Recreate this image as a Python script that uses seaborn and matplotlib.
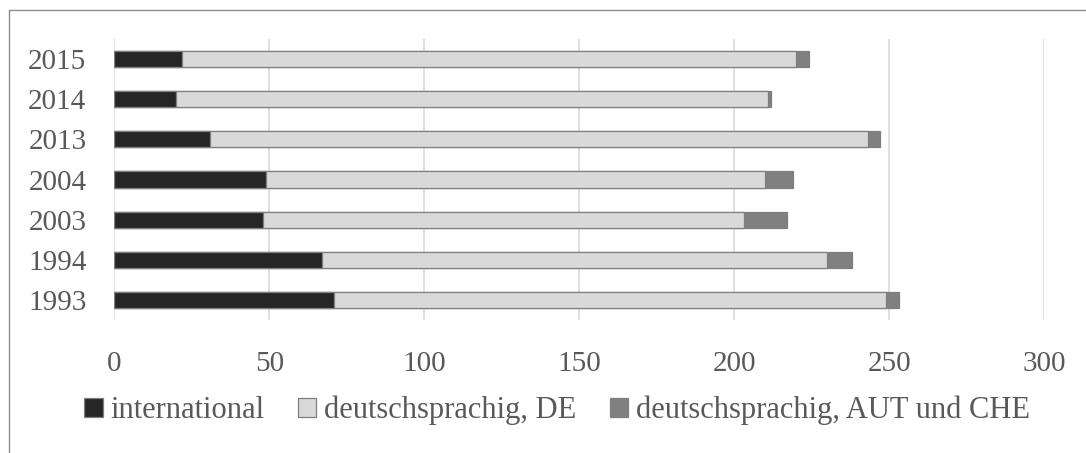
import matplotlib
matplotlib.use("Agg")
import matplotlib.pyplot as plt
from matplotlib.lines import Line2D
from matplotlib.patches import Patch
import seaborn as sns
import pandas as pd
import numpy as np

# Publication counts per year, split by origin
years = ["2015", "2014", "2013", "2004", "2003", "1994", "1993"]
international = [22, 20, 31, 49, 48, 67, 71]
deutsch_de = [198, 191, 212, 161, 155, 163, 178]
deutsch_aut_che = [4, 1, 4, 9, 14, 8, 4]
series_names = ["international", "deutschsprachig, DE", "deutschsprachig, AUT und CHE"]
x_ticks = [0, 50, 100, 150, 200, 250, 300]

colors = ["#262626", "#d9d9d9", "#808080"]
text_color = "#595959"

sns.set_theme(style="white")
plt.rcParams["font.family"] = ["Liberation Serif", "DejaVu Serif"]

df = pd.DataFrame({
    "year": years,
    "intl": international,
    "de": deutsch_de,
    "aut": deutsch_aut_che,
})
# cumulative ends for the stacked segments
df["cum_de"] = df["intl"] + df["de"]
df["cum_all"] = df["cum_de"] + df["aut"]

fig = plt.figure(figsize=(10.86, 4.53), dpi=100)
ax = fig.add_axes([0.1052, 0.2936, 0.8564, 0.6203])

ax.set_axisbelow(True)
ax.grid(axis="x", color="#d9d9d9", linewidth=1.2)
ax.grid(axis="y", visible=False)

common = dict(y="year", order=years, orient="h", width=0.4,
              edgecolor="#7f7f7f", linewidth=0.9, ax=ax)
sns.barplot(data=df, x="cum_all", color=colors[2], saturation=1, **common)
sns.barplot(data=df, x="cum_de", color=colors[1], saturation=1, **common)
sns.barplot(data=df, x="intl", color=colors[0], saturation=1, **common)

ax.set_xlim(0, 300)
ax.set_ylim(len(years) - 0.5, -0.5)
ax.set_xticks(x_ticks)
ax.set_xticklabels([str(t) for t in x_ticks])
ax.set_xlabel("")
ax.set_ylabel("")
for s in ax.spines.values():
    s.set_visible(False)
ax.tick_params(axis="x", length=0, pad=22, labelsize=21, labelcolor=text_color)
ax.tick_params(axis="y", length=0, pad=20, labelsize=21, labelcolor=text_color)

# chart frame
fig.add_artist(Line2D([9 / 1086, 9 / 1086], [0, 1 - 10 / 453],
                      transform=fig.transFigure, color="#8c8c8c", linewidth=1.0))
fig.add_artist(Line2D([9 / 1086, 1], [1 - 10 / 453, 1 - 10 / 453],
                      transform=fig.transFigure, color="#8c8c8c", linewidth=1.0))

handles = [Patch(facecolor=c, edgecolor="#7f7f7f", linewidth=0.9) for c in colors]
fig.legend(handles, series_names, loc="center", bbox_to_anchor=(0.513, 0.094),
           ncol=3, frameon=False, fontsize=22, labelcolor=text_color,
           handlelength=0.6, handleheight=0.6, handletextpad=0.25,
           columnspacing=1.1)

fig.savefig("out.png", dpi=100)
